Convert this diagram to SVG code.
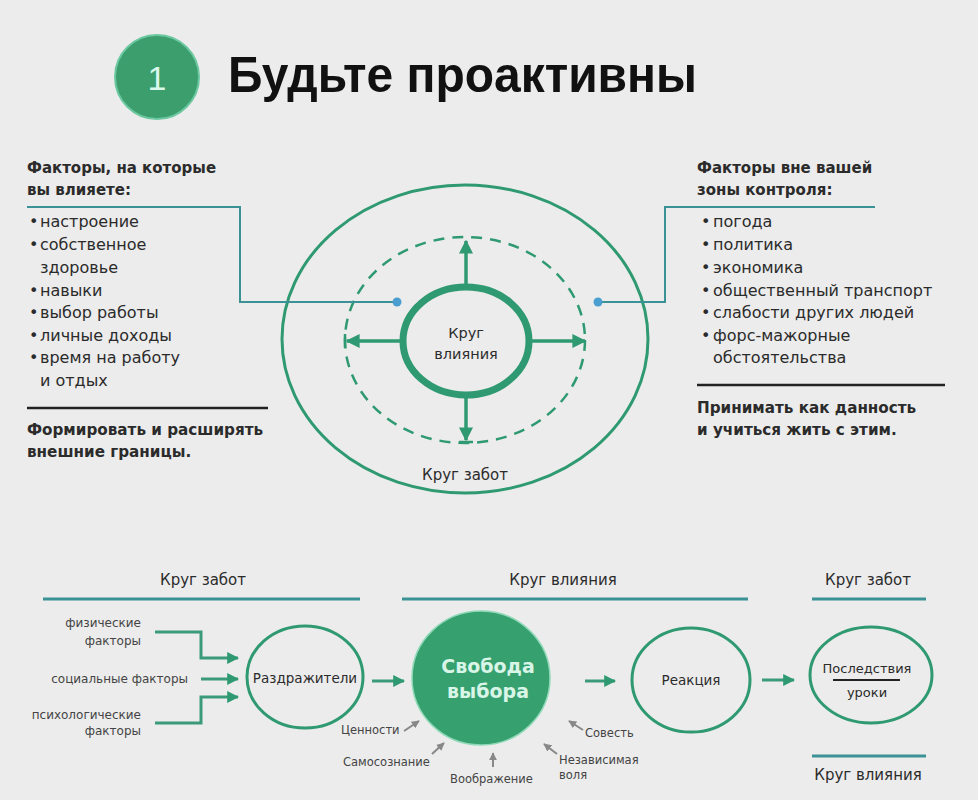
<svg xmlns="http://www.w3.org/2000/svg" width="978" height="800" viewBox="0 0 978 800">
<defs>
<style>
.t{font-family:"DejaVu Sans","Liberation Sans",sans-serif;fill:#2b2b2b}
.b{font-weight:bold}
.g{fill:none;stroke:#2f9a72}
.c{fill:none;stroke:#3a9296;stroke-width:2}
.sep{stroke:#222;stroke-width:2.5}
.bar{stroke:#3a9296;stroke-width:3}
.s{font-family:"DejaVu Sans","Liberation Sans",sans-serif;fill:#444;font-size:11.5px}
.f{font-family:"DejaVu Sans","Liberation Sans",sans-serif;fill:#444;font-size:12px}
</style>
<marker id="ah" viewBox="0 0 10 10" refX="9" refY="5" markerWidth="4" markerHeight="4" orient="auto" markerUnits="strokeWidth">
<path d="M0,0L10,5L0,10z" fill="#2f9a72"/>
</marker>
<marker id="ag" viewBox="0 0 10 10" refX="9" refY="5" markerWidth="4" markerHeight="4" orient="auto" markerUnits="strokeWidth">
<path d="M0,0L10,5L0,10z" fill="#888"/>
</marker>
</defs>
<rect width="978" height="800" fill="#ececec"/>

<g id="title">
<circle cx="157" cy="77" r="42" fill="#3b9e6c" stroke="#6cc8a0" stroke-width="2"/>
<text x="157" y="90" text-anchor="middle" font-family="Liberation Sans,sans-serif" font-size="34" fill="#d9f7ea">1</text>
<text x="228" y="92" font-family="Liberation Sans,sans-serif" font-weight="bold" font-size="50" fill="#111" textLength="469" lengthAdjust="spacingAndGlyphs">Будьте проактивны</text>
</g>

<g id="left-block">
<text class="t b" font-size="15"><tspan x="27" y="173">Факторы, на которые</tspan><tspan x="27" y="195">вы влияете:</tspan></text>
<g class="t" font-size="16">
<text x="29" y="227">•</text><text x="40" y="227">настроение</text>
<text x="29" y="250">•</text><text x="40" y="250">собственное</text>
<text x="40" y="273">здоровье</text>
<text x="29" y="296">•</text><text x="40" y="296">навыки</text>
<text x="29" y="318">•</text><text x="40" y="318">выбор работы</text>
<text x="29" y="341">•</text><text x="40" y="341">личные доходы</text>
<text x="29" y="363">•</text><text x="40" y="363">время на работу</text>
<text x="40" y="386">и отдых</text>
</g>
<line x1="27" y1="408" x2="268" y2="408" class="sep"/>
<text class="t b" font-size="15.2"><tspan x="27" y="435">Формировать и расширять</tspan><tspan x="27" y="457">внешние границы.</tspan></text>
</g>

<g id="right-block">
<text class="t b" font-size="15"><tspan x="697" y="173">Факторы вне вашей</tspan><tspan x="697" y="195">зоны контроля:</tspan></text>
<g class="t" font-size="16">
<text x="701" y="227">•</text><text x="713" y="227">погода</text>
<text x="701" y="250">•</text><text x="713" y="250">политика</text>
<text x="701" y="273">•</text><text x="713" y="273">экономика</text>
<text x="701" y="296">•</text><text x="713" y="296">общественный транспорт</text>
<text x="701" y="318">•</text><text x="713" y="318">слабости других людей</text>
<text x="701" y="341">•</text><text x="713" y="341">форс-мажорные</text>
<text x="713" y="363">обстоятельства</text>
</g>
<line x1="697" y1="385" x2="945" y2="385" class="sep"/>
<text class="t b" font-size="15.2"><tspan x="697" y="413">Принимать как данность</tspan><tspan x="697" y="435">и учиться жить с этим.</tspan></text>
</g>

<g id="circle-of-concern">
<ellipse cx="465" cy="339" rx="183" ry="154" class="g" stroke-width="3"/>
<text x="465" y="480" text-anchor="middle" class="t" font-size="15">Круг забот</text>
</g>
<g id="dashed-boundary">
<ellipse cx="465" cy="340" rx="120" ry="103" class="g" stroke-width="2.5" stroke-dasharray="11 8"/>
</g>
<g id="circle-of-influence">
<ellipse cx="466" cy="341" rx="63" ry="54" class="g" stroke-width="7"/>
<text x="466" y="338" text-anchor="middle" class="t" font-size="14.5">Круг</text>
<text x="466" y="359" text-anchor="middle" class="t" font-size="14.5">влияния</text>
</g>

<g id="connectors">
<path d="M27,207H240V302H396" class="c"/>
<path d="M875,207H665V302H598" class="c"/>
<circle cx="397" cy="302" r="4.5" fill="#4a9fd0"/>
<circle cx="598" cy="302" r="4.5" fill="#4a9fd0"/>
<g stroke="#2f9a72" stroke-width="3.5" fill="none">
<line x1="466" y1="284" x2="466" y2="241" marker-end="url(#ah)"/>
<line x1="400" y1="341" x2="347" y2="341" marker-end="url(#ah)"/>
<line x1="532" y1="341" x2="585" y2="341" marker-end="url(#ah)"/>
<line x1="466" y1="398" x2="466" y2="440" marker-end="url(#ah)"/>
<line x1="345" y1="334" x2="345" y2="348" stroke-width="2.5"/>
<line x1="459" y1="442" x2="473" y2="442" stroke-width="2.5"/>
</g>
<g stroke="#3a9a7a" stroke-width="3" fill="none">
<path d="M155,632H201V658H238" marker-end="url(#ah)"/>
<line x1="201" y1="679" x2="238" y2="679" marker-end="url(#ah)"/>
<path d="M155,723H201V697H238" marker-end="url(#ah)"/>
<line x1="372" y1="681" x2="404" y2="681" marker-end="url(#ah)"/>
<line x1="585" y1="681" x2="615" y2="681" marker-end="url(#ah)"/>
<line x1="762" y1="680" x2="794" y2="680" marker-end="url(#ah)"/>
</g>
<g stroke="#888" stroke-width="2" fill="none">
<line x1="404" y1="731" x2="419" y2="721" marker-end="url(#ag)"/>
<line x1="432" y1="754" x2="444" y2="743" marker-end="url(#ag)"/>
<line x1="493" y1="767" x2="493" y2="753" marker-end="url(#ag)"/>
<line x1="557" y1="754" x2="544" y2="744" marker-end="url(#ag)"/>
<line x1="583" y1="730" x2="569" y2="721" marker-end="url(#ag)"/>
</g>
</g>

<g id="headers">
<text x="203" y="585" text-anchor="middle" class="t" font-size="15">Круг забот</text>
<line x1="43" y1="599" x2="360" y2="599" class="bar"/>
<text x="563" y="585" text-anchor="middle" class="t" font-size="15">Круг влияния</text>
<line x1="402" y1="599" x2="748" y2="599" class="bar"/>
<text x="868" y="585" text-anchor="middle" class="t" font-size="15">Круг забот</text>
<line x1="812" y1="599" x2="926" y2="599" class="bar"/>
<line x1="812" y1="756" x2="926" y2="756" class="bar"/>
<text x="868" y="780" text-anchor="middle" class="t" font-size="15">Круг влияния</text>
</g>

<g id="factors">
<text class="f" text-anchor="end"><tspan x="141" y="627">физические</tspan><tspan x="141" y="645">факторы</tspan></text>
<text class="f" text-anchor="end" x="188" y="683">социальные факторы</text>
<text class="f" text-anchor="end"><tspan x="141" y="719">психологические</tspan><tspan x="141" y="735">факторы</tspan></text>
</g>

<g id="stimuli">
<ellipse cx="305" cy="677" rx="58" ry="51" class="g" stroke-width="3"/>
<text x="305" y="683" text-anchor="middle" class="t" font-size="13.5">Раздражители</text>
</g>
<g id="freedom">
<ellipse cx="481" cy="678" rx="69" ry="67" fill="#37a06f" stroke="#8fd9b8" stroke-width="1.5"/>
<text x="488" y="673" text-anchor="middle" font-family="DejaVu Sans,sans-serif" font-weight="bold" font-size="19" fill="#d8f5e8">Свобода</text>
<text x="488" y="698" text-anchor="middle" font-family="DejaVu Sans,sans-serif" font-weight="bold" font-size="19" fill="#d8f5e8">выбора</text>
</g>
<g id="reaction">
<ellipse cx="691" cy="680" rx="59" ry="52" class="g" stroke-width="3"/>
<text x="691" y="685" text-anchor="middle" class="t" font-size="13.5">Реакция</text>
</g>
<g id="consequences">
<ellipse cx="871" cy="675" rx="61" ry="48" class="g" stroke-width="3"/>
<text x="867" y="673" text-anchor="middle" class="t" font-size="13">Последствия</text>
<line x1="833" y1="680" x2="900" y2="680" stroke="#222" stroke-width="2"/>
<text x="867" y="697" text-anchor="middle" class="t" font-size="13">уроки</text>
</g>
<g id="traits">
<text class="s" x="341" y="734">Ценности</text>
<text class="s" x="343" y="766">Самосознание</text>
<text class="s" x="450" y="783">Воображение</text>
<text class="s" x="559" y="764">Независимая</text>
<text class="s" x="559" y="779">воля</text>
<text class="s" x="585" y="737">Совесть</text>
</g>
</svg>
